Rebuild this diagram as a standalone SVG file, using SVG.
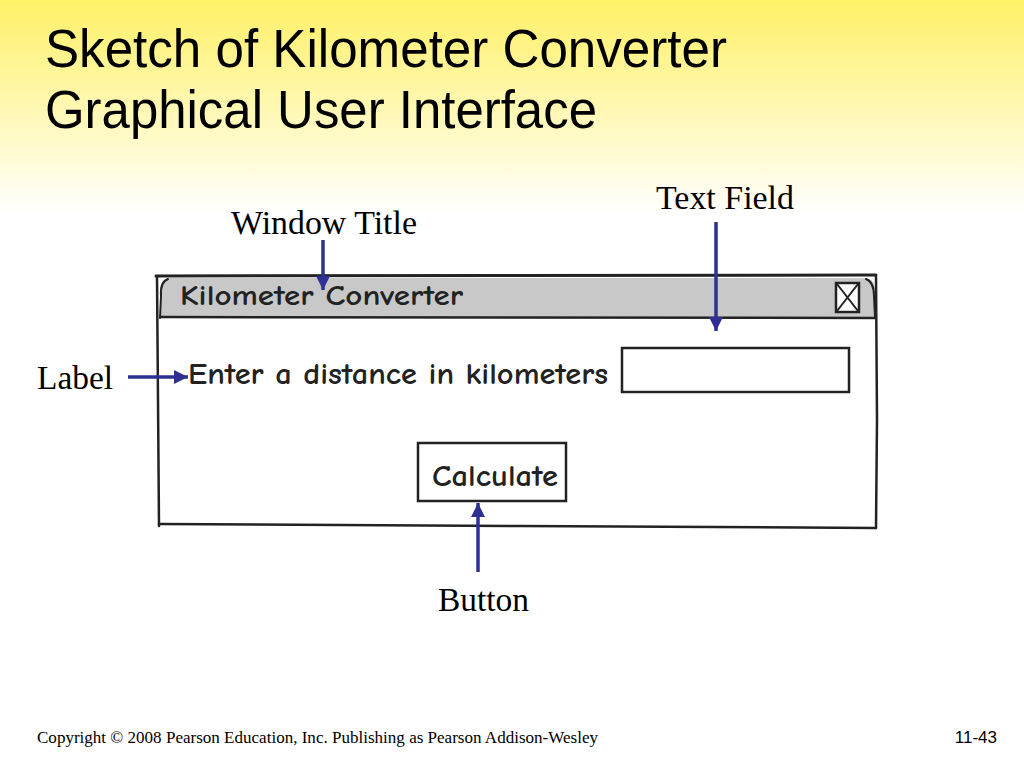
<svg xmlns="http://www.w3.org/2000/svg" width="1024" height="768" viewBox="0 0 1024 768">
<defs>
<linearGradient id="bg" x1="0" y1="0" x2="0" y2="1" gradientUnits="objectBoundingBox">
<stop offset="0" stop-color="#FFF066"/>
<stop offset="1" stop-color="#FFFFFF"/>
</linearGradient>
<marker id="ah" viewBox="0 0 10 10" refX="10" refY="5" markerWidth="4" markerHeight="4" orient="auto" markerUnits="strokeWidth">
<path d="M0,0 L10,5 L0,10 z" fill="#2E3192"/>
</marker>
<style>
.title{font-family:"Liberation Sans",Arial,sans-serif;font-size:53px;fill:#000}
.lbl{font-family:"Liberation Serif","Times New Roman",serif;font-size:33px;fill:#000}
.sk{font-family:"Comic Sans MS","Comic Neue","DejaVu Sans",sans-serif;font-weight:bold;fill:#222}
.ln{fill:none;stroke:#222;stroke-linecap:round}
.arr{fill:none;stroke:#2E3192;stroke-width:3.5;marker-end:url(#ah)}
.foot{font-family:"Liberation Serif","Times New Roman",serif;font-size:17px;fill:#000}
</style>
</defs>
<rect x="0" y="0" width="1024" height="768" fill="#FFFFFF"/>
<rect x="0" y="0" width="1024" height="215" fill="url(#bg)"/>

<g id="slide-title">
<text class="title" x="45" y="67" textLength="682" lengthAdjust="spacingAndGlyphs">Sketch of Kilometer Converter</text>
<text class="title" x="45" y="128" textLength="552" lengthAdjust="spacingAndGlyphs">Graphical User Interface</text>
</g>

<g id="window">
<path d="M160,317 L160,290 Q160,279 170,278 L866,278 Q875,279 875,290 L875,317 Z" fill="#C8C8C8" stroke="none"/>
<path class="ln" stroke-width="3" d="M156,276 L876,275"/>
<path class="ln" stroke-width="2" d="M160,318 L161,296 Q160,282 168,279"/>
<path class="ln" stroke-width="2" d="M866,279 Q874,282 874,296 L875,317"/>
<path class="ln" stroke-width="2.5" d="M161,317 L875,318"/>
<path class="ln" stroke-width="2.5" d="M157,277 L158,400 L159,526"/>
<path class="ln" stroke-width="2.5" d="M876,276 L877,420 L876,528"/>
<path class="ln" stroke-width="2.5" d="M159,524 L520,526 L876,528"/>
<text class="sk" x="180" y="305" font-size="29" textLength="283" lengthAdjust="spacingAndGlyphs">Kilometer Converter</text>
<g id="close-box">
<rect x="836" y="283" width="23" height="29" fill="#FFFFFF" stroke="#222" stroke-width="2.5"/>
<path class="ln" stroke-width="2" d="M837,284 L858,311 M858,284 L837,311"/>
</g>
</g>

<g id="label-text">
<text class="sk" x="188" y="384" font-size="31" textLength="420" lengthAdjust="spacingAndGlyphs">Enter a distance in kilometers</text>
</g>

<g id="text-field">
<rect x="622" y="348" width="227" height="44" fill="#FFFFFF" stroke="#222" stroke-width="2.5"/>
</g>

<g id="button">
<rect x="418" y="443" width="148" height="58" fill="#FFFFFF" stroke="#222" stroke-width="2.5"/>
<text class="sk" x="432" y="486" font-size="31" textLength="126" lengthAdjust="spacingAndGlyphs">Calculate</text>
</g>

<g id="annotation-window-title"><text class="lbl" x="231" y="234" textLength="186" lengthAdjust="spacingAndGlyphs">Window Title</text></g>
<g id="annotation-text-field"><text class="lbl" x="656" y="209" textLength="138" lengthAdjust="spacingAndGlyphs">Text Field</text></g>
<g id="annotation-label"><text class="lbl" x="37" y="389" textLength="76" lengthAdjust="spacingAndGlyphs">Label</text></g>
<g id="annotation-button"><text class="lbl" x="438" y="611" textLength="91" lengthAdjust="spacingAndGlyphs">Button</text></g>

<g id="connectors">
<path class="arr" d="M323,240 L323,290"/>
<path class="arr" d="M716,222 L716,331"/>
<path class="arr" d="M128,377 L188,377"/>
<path class="arr" d="M478,572 L478,503"/>
</g>

<g id="footer">
<text class="foot" x="37" y="743" textLength="561" lengthAdjust="spacingAndGlyphs">Copyright © 2008 Pearson Education, Inc. Publishing as Pearson Addison-Wesley</text>
<text x="997" y="743" text-anchor="end" font-family="Liberation Sans, Arial, sans-serif" font-size="17">11-43</text>
</g>
</svg>
